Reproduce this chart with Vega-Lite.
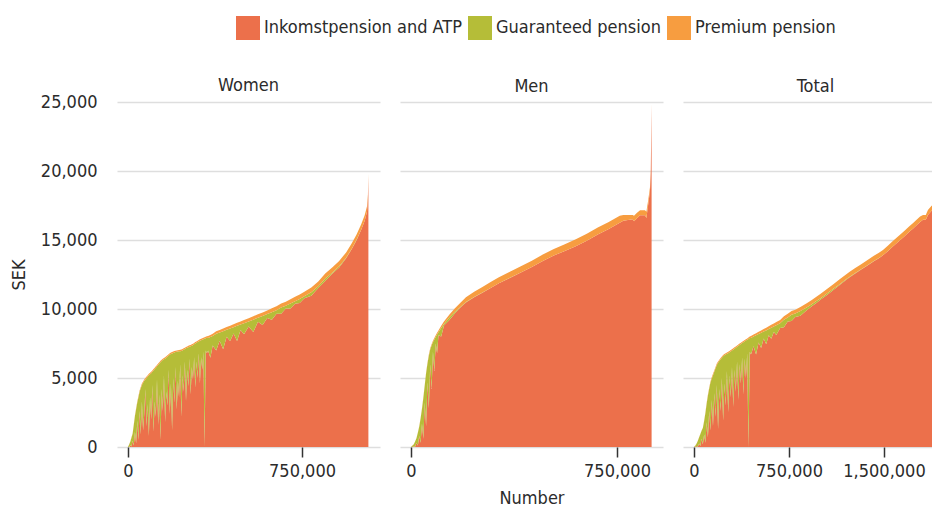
{
  "$schema": "https://vega.github.io/schema/vega-lite/v6.json",
  "padding": {"left": 10, "top": 16, "right": 0, "bottom": 0},
  "config": {
    "font": "DejaVu Sans Condensed, sans-serif",
    "view": {"stroke": null},
    "title": {"fontSize": 18, "fontWeight": "normal", "color": "#2b2b2b", "anchor": "middle", "offset": 6, "frame": "group"},
    "axis": {"labelFontSize": 18, "titleFontSize": 18, "titleFontWeight": "normal", "labelColor": "#2b2b2b", "titleColor": "#2b2b2b", "gridColor": "#dedede", "gridWidth": 1.5, "domain": false},
    "legend": {"labelFontSize": 18, "labelColor": "#2b2b2b", "labelLimit": 0},
    "concat": {"spacing": 20}
  },
  "datasets": {
    "ranks": [
      {"Component": "Inkomstpension and ATP", "rank": 1},
      {"Component": "Guaranteed pension", "rank": 2},
      {"Component": "Premium pension", "rank": 3}
    ],
    "women": [
      {"n": 0, "Inkomstpension and ATP": 0, "Guaranteed pension": 0, "Premium pension": 0},
      {"n": 5000, "Inkomstpension and ATP": 0, "Guaranteed pension": 190, "Premium pension": 10},
      {"n": 10000, "Inkomstpension and ATP": 120, "Guaranteed pension": 260, "Premium pension": 20},
      {"n": 15000, "Inkomstpension and ATP": 30, "Guaranteed pension": 640, "Premium pension": 30},
      {"n": 20000, "Inkomstpension and ATP": 450, "Guaranteed pension": 510, "Premium pension": 40},
      {"n": 25000, "Inkomstpension and ATP": 100, "Guaranteed pension": 1500, "Premium pension": 50},
      {"n": 30000, "Inkomstpension and ATP": 1100, "Guaranteed pension": 1140, "Premium pension": 60},
      {"n": 35000, "Inkomstpension and ATP": 250, "Guaranteed pension": 2480, "Premium pension": 70},
      {"n": 40000, "Inkomstpension and ATP": 1900, "Guaranteed pension": 1320, "Premium pension": 80},
      {"n": 45000, "Inkomstpension and ATP": 500, "Guaranteed pension": 3110, "Premium pension": 90},
      {"n": 50000, "Inkomstpension and ATP": 2600, "Guaranteed pension": 1400, "Premium pension": 100},
      {"n": 55000, "Inkomstpension and ATP": 900, "Guaranteed pension": 3350, "Premium pension": 100},
      {"n": 60000, "Inkomstpension and ATP": 3300, "Guaranteed pension": 1200, "Premium pension": 100},
      {"n": 65000, "Inkomstpension and ATP": 1200, "Guaranteed pension": 3450, "Premium pension": 100},
      {"n": 70000, "Inkomstpension and ATP": 2400, "Guaranteed pension": 2400, "Premium pension": 100},
      {"n": 75000, "Inkomstpension and ATP": 4200, "Guaranteed pension": 700, "Premium pension": 100},
      {"n": 80000, "Inkomstpension and ATP": 1500, "Guaranteed pension": 3500, "Premium pension": 100},
      {"n": 85000, "Inkomstpension and ATP": 3100, "Guaranteed pension": 2000, "Premium pension": 100},
      {"n": 90000, "Inkomstpension and ATP": 800, "Guaranteed pension": 4400, "Premium pension": 100},
      {"n": 95000, "Inkomstpension and ATP": 3600, "Guaranteed pension": 1680, "Premium pension": 100},
      {"n": 100000, "Inkomstpension and ATP": 2000, "Guaranteed pension": 3350, "Premium pension": 100},
      {"n": 105000, "Inkomstpension and ATP": 4500, "Guaranteed pension": 950, "Premium pension": 100},
      {"n": 110000, "Inkomstpension and ATP": 1100, "Guaranteed pension": 4450, "Premium pension": 100},
      {"n": 115000, "Inkomstpension and ATP": 3300, "Guaranteed pension": 2350, "Premium pension": 100},
      {"n": 120000, "Inkomstpension and ATP": 2200, "Guaranteed pension": 3550, "Premium pension": 100},
      {"n": 125000, "Inkomstpension and ATP": 4900, "Guaranteed pension": 950, "Premium pension": 100},
      {"n": 130000, "Inkomstpension and ATP": 1600, "Guaranteed pension": 4350, "Premium pension": 100},
      {"n": 135000, "Inkomstpension and ATP": 3800, "Guaranteed pension": 2250, "Premium pension": 100},
      {"n": 140000, "Inkomstpension and ATP": 500, "Guaranteed pension": 5650, "Premium pension": 100},
      {"n": 145000, "Inkomstpension and ATP": 4200, "Guaranteed pension": 2030, "Premium pension": 100},
      {"n": 150000, "Inkomstpension and ATP": 2600, "Guaranteed pension": 3700, "Premium pension": 100},
      {"n": 155000, "Inkomstpension and ATP": 5200, "Guaranteed pension": 1150, "Premium pension": 100},
      {"n": 160000, "Inkomstpension and ATP": 1800, "Guaranteed pension": 4600, "Premium pension": 100},
      {"n": 165000, "Inkomstpension and ATP": 4000, "Guaranteed pension": 2480, "Premium pension": 100},
      {"n": 170000, "Inkomstpension and ATP": 3000, "Guaranteed pension": 3550, "Premium pension": 100},
      {"n": 175000, "Inkomstpension and ATP": 5600, "Guaranteed pension": 1020, "Premium pension": 100},
      {"n": 180000, "Inkomstpension and ATP": 2400, "Guaranteed pension": 4300, "Premium pension": 100},
      {"n": 185000, "Inkomstpension and ATP": 4600, "Guaranteed pension": 2140, "Premium pension": 100},
      {"n": 190000, "Inkomstpension and ATP": 1200, "Guaranteed pension": 5580, "Premium pension": 100},
      {"n": 195000, "Inkomstpension and ATP": 5000, "Guaranteed pension": 1820, "Premium pension": 100},
      {"n": 200000, "Inkomstpension and ATP": 3200, "Guaranteed pension": 3650, "Premium pension": 100},
      {"n": 205000, "Inkomstpension and ATP": 5800, "Guaranteed pension": 1080, "Premium pension": 100},
      {"n": 210000, "Inkomstpension and ATP": 2700, "Guaranteed pension": 4200, "Premium pension": 100},
      {"n": 215000, "Inkomstpension and ATP": 4800, "Guaranteed pension": 2115, "Premium pension": 100},
      {"n": 220000, "Inkomstpension and ATP": 3600, "Guaranteed pension": 3330, "Premium pension": 100},
      {"n": 225000, "Inkomstpension and ATP": 6000, "Guaranteed pension": 945, "Premium pension": 100},
      {"n": 230000, "Inkomstpension and ATP": 2200, "Guaranteed pension": 4760, "Premium pension": 100},
      {"n": 235000, "Inkomstpension and ATP": 5200, "Guaranteed pension": 1800, "Premium pension": 100},
      {"n": 240000, "Inkomstpension and ATP": 4000, "Guaranteed pension": 3050, "Premium pension": 100},
      {"n": 245000, "Inkomstpension and ATP": 6200, "Guaranteed pension": 900, "Premium pension": 100},
      {"n": 250000, "Inkomstpension and ATP": 3300, "Guaranteed pension": 3850, "Premium pension": 100},
      {"n": 255000, "Inkomstpension and ATP": 5600, "Guaranteed pension": 1590, "Premium pension": 100},
      {"n": 260000, "Inkomstpension and ATP": 4400, "Guaranteed pension": 2830, "Premium pension": 100},
      {"n": 265000, "Inkomstpension and ATP": 6400, "Guaranteed pension": 865, "Premium pension": 100},
      {"n": 270000, "Inkomstpension and ATP": 3800, "Guaranteed pension": 3500, "Premium pension": 100},
      {"n": 275000, "Inkomstpension and ATP": 5800, "Guaranteed pension": 1540, "Premium pension": 100},
      {"n": 280000, "Inkomstpension and ATP": 4900, "Guaranteed pension": 2480, "Premium pension": 100},
      {"n": 285000, "Inkomstpension and ATP": 6500, "Guaranteed pension": 940, "Premium pension": 100},
      {"n": 290000, "Inkomstpension and ATP": 4300, "Guaranteed pension": 3200, "Premium pension": 100},
      {"n": 295000, "Inkomstpension and ATP": 6200, "Guaranteed pension": 1350, "Premium pension": 100},
      {"n": 300000, "Inkomstpension and ATP": 5000, "Guaranteed pension": 2600, "Premium pension": 100},
      {"n": 305000, "Inkomstpension and ATP": 6800, "Guaranteed pension": 850, "Premium pension": 100},
      {"n": 310000, "Inkomstpension and ATP": 4600, "Guaranteed pension": 3100, "Premium pension": 100},
      {"n": 315000, "Inkomstpension and ATP": 6500, "Guaranteed pension": 1240, "Premium pension": 100},
      {"n": 320000, "Inkomstpension and ATP": 5600, "Guaranteed pension": 2180, "Premium pension": 100},
      {"n": 325000, "Inkomstpension and ATP": 6900, "Guaranteed pension": 915, "Premium pension": 100},
      {"n": 330000, "Inkomstpension and ATP": 0, "Guaranteed pension": 7850, "Premium pension": 100},
      {"n": 335000, "Inkomstpension and ATP": 7000, "Guaranteed pension": 885, "Premium pension": 100},
      {"n": 340000, "Inkomstpension and ATP": 6800, "Guaranteed pension": 1120, "Premium pension": 100},
      {"n": 345000, "Inkomstpension and ATP": 7000, "Guaranteed pension": 900, "Premium pension": 150},
      {"n": 355000, "Inkomstpension and ATP": 6470, "Guaranteed pension": 1500, "Premium pension": 150},
      {"n": 365000, "Inkomstpension and ATP": 7350, "Guaranteed pension": 700, "Premium pension": 150},
      {"n": 380000, "Inkomstpension and ATP": 7000, "Guaranteed pension": 1200, "Premium pension": 180},
      {"n": 395000, "Inkomstpension and ATP": 7700, "Guaranteed pension": 600, "Premium pension": 180},
      {"n": 410000, "Inkomstpension and ATP": 7080, "Guaranteed pension": 1300, "Premium pension": 200},
      {"n": 425000, "Inkomstpension and ATP": 7990, "Guaranteed pension": 500, "Premium pension": 200},
      {"n": 440000, "Inkomstpension and ATP": 7690, "Guaranteed pension": 900, "Premium pension": 200},
      {"n": 455000, "Inkomstpension and ATP": 8230, "Guaranteed pension": 450, "Premium pension": 220},
      {"n": 470000, "Inkomstpension and ATP": 7680, "Guaranteed pension": 1100, "Premium pension": 220},
      {"n": 485000, "Inkomstpension and ATP": 8480, "Guaranteed pension": 400, "Premium pension": 220},
      {"n": 500000, "Inkomstpension and ATP": 8170, "Guaranteed pension": 800, "Premium pension": 230},
      {"n": 520000, "Inkomstpension and ATP": 8740, "Guaranteed pension": 350, "Premium pension": 240},
      {"n": 540000, "Inkomstpension and ATP": 8330, "Guaranteed pension": 900, "Premium pension": 250},
      {"n": 560000, "Inkomstpension and ATP": 9070, "Guaranteed pension": 300, "Premium pension": 250},
      {"n": 580000, "Inkomstpension and ATP": 8840, "Guaranteed pension": 650, "Premium pension": 260},
      {"n": 600000, "Inkomstpension and ATP": 9350, "Guaranteed pension": 280, "Premium pension": 270},
      {"n": 620000, "Inkomstpension and ATP": 9220, "Guaranteed pension": 550, "Premium pension": 280},
      {"n": 640000, "Inkomstpension and ATP": 9660, "Guaranteed pension": 250, "Premium pension": 290},
      {"n": 660000, "Inkomstpension and ATP": 9650, "Guaranteed pension": 450, "Premium pension": 300},
      {"n": 680000, "Inkomstpension and ATP": 10030, "Guaranteed pension": 200, "Premium pension": 300},
      {"n": 700000, "Inkomstpension and ATP": 10040, "Guaranteed pension": 350, "Premium pension": 310},
      {"n": 720000, "Inkomstpension and ATP": 10380, "Guaranteed pension": 180, "Premium pension": 320},
      {"n": 740000, "Inkomstpension and ATP": 10430, "Guaranteed pension": 300, "Premium pension": 320},
      {"n": 760000, "Inkomstpension and ATP": 10770, "Guaranteed pension": 150, "Premium pension": 330},
      {"n": 790000, "Inkomstpension and ATP": 10960, "Guaranteed pension": 250, "Premium pension": 340},
      {"n": 820000, "Inkomstpension and ATP": 11530, "Guaranteed pension": 120, "Premium pension": 350},
      {"n": 850000, "Inkomstpension and ATP": 12030, "Guaranteed pension": 180, "Premium pension": 360},
      {"n": 880000, "Inkomstpension and ATP": 12550, "Guaranteed pension": 80, "Premium pension": 370},
      {"n": 910000, "Inkomstpension and ATP": 13000, "Guaranteed pension": 100, "Premium pension": 380},
      {"n": 940000, "Inkomstpension and ATP": 13670, "Guaranteed pension": 50, "Premium pension": 380},
      {"n": 965000, "Inkomstpension and ATP": 14360, "Guaranteed pension": 30, "Premium pension": 390},
      {"n": 985000, "Inkomstpension and ATP": 14990, "Guaranteed pension": 20, "Premium pension": 390},
      {"n": 1005000, "Inkomstpension and ATP": 15740, "Guaranteed pension": 10, "Premium pension": 400},
      {"n": 1020000, "Inkomstpension and ATP": 16400, "Guaranteed pension": 0, "Premium pension": 400},
      {"n": 1030000, "Inkomstpension and ATP": 17050, "Guaranteed pension": 0, "Premium pension": 400},
      {"n": 1034000, "Inkomstpension and ATP": 18000, "Guaranteed pension": 0, "Premium pension": 300},
      {"n": 1036000, "Inkomstpension and ATP": 19600, "Guaranteed pension": 0, "Premium pension": 200}
    ],
    "men": [
      {"n": 0, "Inkomstpension and ATP": 0, "Guaranteed pension": 0, "Premium pension": 0},
      {"n": 5000, "Inkomstpension and ATP": 0, "Guaranteed pension": 95, "Premium pension": 5},
      {"n": 10000, "Inkomstpension and ATP": 60, "Guaranteed pension": 130, "Premium pension": 10},
      {"n": 15000, "Inkomstpension and ATP": 20, "Guaranteed pension": 370, "Premium pension": 10},
      {"n": 20000, "Inkomstpension and ATP": 300, "Guaranteed pension": 330, "Premium pension": 20},
      {"n": 25000, "Inkomstpension and ATP": 100, "Guaranteed pension": 930, "Premium pension": 20},
      {"n": 30000, "Inkomstpension and ATP": 800, "Guaranteed pension": 670, "Premium pension": 30},
      {"n": 35000, "Inkomstpension and ATP": 300, "Guaranteed pension": 1770, "Premium pension": 30},
      {"n": 40000, "Inkomstpension and ATP": 1700, "Guaranteed pension": 1060, "Premium pension": 40},
      {"n": 45000, "Inkomstpension and ATP": 600, "Guaranteed pension": 2950, "Premium pension": 50},
      {"n": 50000, "Inkomstpension and ATP": 3200, "Guaranteed pension": 1250, "Premium pension": 50},
      {"n": 55000, "Inkomstpension and ATP": 1500, "Guaranteed pension": 3840, "Premium pension": 60},
      {"n": 60000, "Inkomstpension and ATP": 4700, "Guaranteed pension": 1330, "Premium pension": 70},
      {"n": 65000, "Inkomstpension and ATP": 2800, "Guaranteed pension": 3820, "Premium pension": 80},
      {"n": 70000, "Inkomstpension and ATP": 6000, "Guaranteed pension": 1060, "Premium pension": 90},
      {"n": 75000, "Inkomstpension and ATP": 4200, "Guaranteed pension": 3150, "Premium pension": 100},
      {"n": 80000, "Inkomstpension and ATP": 6900, "Guaranteed pension": 700, "Premium pension": 100},
      {"n": 85000, "Inkomstpension and ATP": 5500, "Guaranteed pension": 2290, "Premium pension": 110},
      {"n": 90000, "Inkomstpension and ATP": 7500, "Guaranteed pension": 480, "Premium pension": 120},
      {"n": 95000, "Inkomstpension and ATP": 6800, "Guaranteed pension": 1360, "Premium pension": 120},
      {"n": 100000, "Inkomstpension and ATP": 8100, "Guaranteed pension": 220, "Premium pension": 130},
      {"n": 110000, "Inkomstpension and ATP": 8000, "Guaranteed pension": 630, "Premium pension": 150},
      {"n": 120000, "Inkomstpension and ATP": 8800, "Guaranteed pension": 120, "Premium pension": 180},
      {"n": 140000, "Inkomstpension and ATP": 9200, "Guaranteed pension": 200, "Premium pension": 200},
      {"n": 160000, "Inkomstpension and ATP": 9700, "Guaranteed pension": 100, "Premium pension": 250},
      {"n": 180000, "Inkomstpension and ATP": 10100, "Guaranteed pension": 50, "Premium pension": 300},
      {"n": 200000, "Inkomstpension and ATP": 10470, "Guaranteed pension": 30, "Premium pension": 350},
      {"n": 230000, "Inkomstpension and ATP": 10850, "Guaranteed pension": 20, "Premium pension": 380},
      {"n": 260000, "Inkomstpension and ATP": 11180, "Guaranteed pension": 20, "Premium pension": 400},
      {"n": 290000, "Inkomstpension and ATP": 11520, "Guaranteed pension": 10, "Premium pension": 420},
      {"n": 320000, "Inkomstpension and ATP": 11860, "Guaranteed pension": 10, "Premium pension": 430},
      {"n": 360000, "Inkomstpension and ATP": 12250, "Guaranteed pension": 10, "Premium pension": 440},
      {"n": 400000, "Inkomstpension and ATP": 12650, "Guaranteed pension": 0, "Premium pension": 450},
      {"n": 440000, "Inkomstpension and ATP": 13040, "Guaranteed pension": 0, "Premium pension": 460},
      {"n": 480000, "Inkomstpension and ATP": 13480, "Guaranteed pension": 0, "Premium pension": 470},
      {"n": 520000, "Inkomstpension and ATP": 13870, "Guaranteed pension": 0, "Premium pension": 480},
      {"n": 560000, "Inkomstpension and ATP": 14210, "Guaranteed pension": 0, "Premium pension": 490},
      {"n": 600000, "Inkomstpension and ATP": 14550, "Guaranteed pension": 0, "Premium pension": 500},
      {"n": 640000, "Inkomstpension and ATP": 14950, "Guaranteed pension": 0, "Premium pension": 500},
      {"n": 680000, "Inkomstpension and ATP": 15400, "Guaranteed pension": 0, "Premium pension": 500},
      {"n": 720000, "Inkomstpension and ATP": 15800, "Guaranteed pension": 0, "Premium pension": 500},
      {"n": 760000, "Inkomstpension and ATP": 16250, "Guaranteed pension": 0, "Premium pension": 500},
      {"n": 773000, "Inkomstpension and ATP": 16400, "Guaranteed pension": 0, "Premium pension": 410},
      {"n": 807000, "Inkomstpension and ATP": 16500, "Guaranteed pension": 0, "Premium pension": 310},
      {"n": 812000, "Inkomstpension and ATP": 16350, "Guaranteed pension": 0, "Premium pension": 400},
      {"n": 822000, "Inkomstpension and ATP": 16550, "Guaranteed pension": 0, "Premium pension": 400},
      {"n": 834000, "Inkomstpension and ATP": 16800, "Guaranteed pension": 0, "Premium pension": 350},
      {"n": 852000, "Inkomstpension and ATP": 16800, "Guaranteed pension": 0, "Premium pension": 350},
      {"n": 857000, "Inkomstpension and ATP": 16600, "Guaranteed pension": 0, "Premium pension": 450},
      {"n": 864000, "Inkomstpension and ATP": 17630, "Guaranteed pension": 0, "Premium pension": 300},
      {"n": 870000, "Inkomstpension and ATP": 18550, "Guaranteed pension": 0, "Premium pension": 250},
      {"n": 873000, "Inkomstpension and ATP": 19900, "Guaranteed pension": 0, "Premium pension": 200},
      {"n": 876000, "Inkomstpension and ATP": 24800, "Guaranteed pension": 0, "Premium pension": 100}
    ],
    "total": [
      {"n": 0, "Inkomstpension and ATP": 0, "Guaranteed pension": 0, "Premium pension": 0},
      {"n": 10000, "Inkomstpension and ATP": 0, "Guaranteed pension": 95, "Premium pension": 5},
      {"n": 20000, "Inkomstpension and ATP": 80, "Guaranteed pension": 160, "Premium pension": 10},
      {"n": 30000, "Inkomstpension and ATP": 20, "Guaranteed pension": 420, "Premium pension": 10},
      {"n": 40000, "Inkomstpension and ATP": 250, "Guaranteed pension": 430, "Premium pension": 20},
      {"n": 50000, "Inkomstpension and ATP": 80, "Guaranteed pension": 850, "Premium pension": 20},
      {"n": 60000, "Inkomstpension and ATP": 600, "Guaranteed pension": 570, "Premium pension": 30},
      {"n": 70000, "Inkomstpension and ATP": 200, "Guaranteed pension": 1170, "Premium pension": 30},
      {"n": 80000, "Inkomstpension and ATP": 900, "Guaranteed pension": 960, "Premium pension": 40},
      {"n": 90000, "Inkomstpension and ATP": 300, "Guaranteed pension": 2150, "Premium pension": 50},
      {"n": 100000, "Inkomstpension and ATP": 1800, "Guaranteed pension": 1340, "Premium pension": 60},
      {"n": 110000, "Inkomstpension and ATP": 700, "Guaranteed pension": 3030, "Premium pension": 70},
      {"n": 120000, "Inkomstpension and ATP": 2600, "Guaranteed pension": 1620, "Premium pension": 80},
      {"n": 130000, "Inkomstpension and ATP": 1200, "Guaranteed pension": 3470, "Premium pension": 80},
      {"n": 140000, "Inkomstpension and ATP": 3400, "Guaranteed pension": 1550, "Premium pension": 100},
      {"n": 150000, "Inkomstpension and ATP": 1500, "Guaranteed pension": 3700, "Premium pension": 100},
      {"n": 160000, "Inkomstpension and ATP": 3900, "Guaranteed pension": 1550, "Premium pension": 100},
      {"n": 170000, "Inkomstpension and ATP": 2200, "Guaranteed pension": 3500, "Premium pension": 100},
      {"n": 180000, "Inkomstpension and ATP": 4500, "Guaranteed pension": 1450, "Premium pension": 100},
      {"n": 190000, "Inkomstpension and ATP": 1300, "Guaranteed pension": 4800, "Premium pension": 100},
      {"n": 200000, "Inkomstpension and ATP": 4200, "Guaranteed pension": 2030, "Premium pension": 100},
      {"n": 210000, "Inkomstpension and ATP": 2600, "Guaranteed pension": 3750, "Premium pension": 100},
      {"n": 220000, "Inkomstpension and ATP": 5000, "Guaranteed pension": 1460, "Premium pension": 100},
      {"n": 230000, "Inkomstpension and ATP": 1900, "Guaranteed pension": 4670, "Premium pension": 100},
      {"n": 240000, "Inkomstpension and ATP": 4600, "Guaranteed pension": 2040, "Premium pension": 100},
      {"n": 250000, "Inkomstpension and ATP": 3000, "Guaranteed pension": 3700, "Premium pension": 100},
      {"n": 260000, "Inkomstpension and ATP": 5500, "Guaranteed pension": 1250, "Premium pension": 100},
      {"n": 270000, "Inkomstpension and ATP": 2500, "Guaranteed pension": 4300, "Premium pension": 100},
      {"n": 280000, "Inkomstpension and ATP": 5200, "Guaranteed pension": 1660, "Premium pension": 100},
      {"n": 290000, "Inkomstpension and ATP": 3600, "Guaranteed pension": 3320, "Premium pension": 100},
      {"n": 300000, "Inkomstpension and ATP": 5800, "Guaranteed pension": 1190, "Premium pension": 100},
      {"n": 310000, "Inkomstpension and ATP": 2900, "Guaranteed pension": 4150, "Premium pension": 100},
      {"n": 320000, "Inkomstpension and ATP": 5600, "Guaranteed pension": 1520, "Premium pension": 100},
      {"n": 330000, "Inkomstpension and ATP": 4000, "Guaranteed pension": 3190, "Premium pension": 100},
      {"n": 340000, "Inkomstpension and ATP": 6200, "Guaranteed pension": 1060, "Premium pension": 100},
      {"n": 350000, "Inkomstpension and ATP": 3400, "Guaranteed pension": 3930, "Premium pension": 100},
      {"n": 360000, "Inkomstpension and ATP": 6000, "Guaranteed pension": 1400, "Premium pension": 100},
      {"n": 370000, "Inkomstpension and ATP": 4600, "Guaranteed pension": 2860, "Premium pension": 100},
      {"n": 380000, "Inkomstpension and ATP": 6500, "Guaranteed pension": 1030, "Premium pension": 100},
      {"n": 390000, "Inkomstpension and ATP": 3800, "Guaranteed pension": 3790, "Premium pension": 100},
      {"n": 400000, "Inkomstpension and ATP": 6400, "Guaranteed pension": 1250, "Premium pension": 100},
      {"n": 410000, "Inkomstpension and ATP": 5000, "Guaranteed pension": 2710, "Premium pension": 100},
      {"n": 420000, "Inkomstpension and ATP": 6800, "Guaranteed pension": 970, "Premium pension": 100},
      {"n": 430000, "Inkomstpension and ATP": 0, "Guaranteed pension": 7835, "Premium pension": 100},
      {"n": 440000, "Inkomstpension and ATP": 6900, "Guaranteed pension": 1000, "Premium pension": 100},
      {"n": 450000, "Inkomstpension and ATP": 6700, "Guaranteed pension": 1200, "Premium pension": 150},
      {"n": 470000, "Inkomstpension and ATP": 7300, "Guaranteed pension": 700, "Premium pension": 150},
      {"n": 490000, "Inkomstpension and ATP": 6700, "Guaranteed pension": 1400, "Premium pension": 150},
      {"n": 510000, "Inkomstpension and ATP": 7580, "Guaranteed pension": 600, "Premium pension": 170},
      {"n": 530000, "Inkomstpension and ATP": 7170, "Guaranteed pension": 1100, "Premium pension": 180},
      {"n": 550000, "Inkomstpension and ATP": 7870, "Guaranteed pension": 500, "Premium pension": 180},
      {"n": 570000, "Inkomstpension and ATP": 7450, "Guaranteed pension": 1000, "Premium pension": 200},
      {"n": 590000, "Inkomstpension and ATP": 8100, "Guaranteed pension": 450, "Premium pension": 200},
      {"n": 610000, "Inkomstpension and ATP": 7840, "Guaranteed pension": 800, "Premium pension": 210},
      {"n": 630000, "Inkomstpension and ATP": 8330, "Guaranteed pension": 400, "Premium pension": 220},
      {"n": 650000, "Inkomstpension and ATP": 8120, "Guaranteed pension": 700, "Premium pension": 230},
      {"n": 680000, "Inkomstpension and ATP": 8620, "Guaranteed pension": 350, "Premium pension": 240},
      {"n": 710000, "Inkomstpension and ATP": 8680, "Guaranteed pension": 550, "Premium pension": 250},
      {"n": 740000, "Inkomstpension and ATP": 9090, "Guaranteed pension": 300, "Premium pension": 260},
      {"n": 770000, "Inkomstpension and ATP": 9130, "Guaranteed pension": 450, "Premium pension": 270},
      {"n": 800000, "Inkomstpension and ATP": 9420, "Guaranteed pension": 250, "Premium pension": 280},
      {"n": 840000, "Inkomstpension and ATP": 9510, "Guaranteed pension": 350, "Premium pension": 290},
      {"n": 890000, "Inkomstpension and ATP": 9910, "Guaranteed pension": 200, "Premium pension": 300},
      {"n": 930000, "Inkomstpension and ATP": 10200, "Guaranteed pension": 150, "Premium pension": 300},
      {"n": 966000, "Inkomstpension and ATP": 10430, "Guaranteed pension": 150, "Premium pension": 310},
      {"n": 1000000, "Inkomstpension and ATP": 10680, "Guaranteed pension": 100, "Premium pension": 320},
      {"n": 1050000, "Inkomstpension and ATP": 11020, "Guaranteed pension": 100, "Premium pension": 330},
      {"n": 1100000, "Inkomstpension and ATP": 11380, "Guaranteed pension": 80, "Premium pension": 340},
      {"n": 1150000, "Inkomstpension and ATP": 11740, "Guaranteed pension": 60, "Premium pension": 350},
      {"n": 1200000, "Inkomstpension and ATP": 12100, "Guaranteed pension": 50, "Premium pension": 350},
      {"n": 1229000, "Inkomstpension and ATP": 12300, "Guaranteed pension": 40, "Premium pension": 360},
      {"n": 1270000, "Inkomstpension and ATP": 12560, "Guaranteed pension": 30, "Premium pension": 360},
      {"n": 1320000, "Inkomstpension and ATP": 12860, "Guaranteed pension": 20, "Premium pension": 370},
      {"n": 1370000, "Inkomstpension and ATP": 13150, "Guaranteed pension": 20, "Premium pension": 380},
      {"n": 1420000, "Inkomstpension and ATP": 13460, "Guaranteed pension": 10, "Premium pension": 380},
      {"n": 1460000, "Inkomstpension and ATP": 13680, "Guaranteed pension": 10, "Premium pension": 390},
      {"n": 1492000, "Inkomstpension and ATP": 13890, "Guaranteed pension": 0, "Premium pension": 390},
      {"n": 1530000, "Inkomstpension and ATP": 14180, "Guaranteed pension": 0, "Premium pension": 400},
      {"n": 1570000, "Inkomstpension and ATP": 14520, "Guaranteed pension": 0, "Premium pension": 400},
      {"n": 1624000, "Inkomstpension and ATP": 14960, "Guaranteed pension": 0, "Premium pension": 400},
      {"n": 1660000, "Inkomstpension and ATP": 15260, "Guaranteed pension": 0, "Premium pension": 400},
      {"n": 1700000, "Inkomstpension and ATP": 15590, "Guaranteed pension": 0, "Premium pension": 400},
      {"n": 1730000, "Inkomstpension and ATP": 15840, "Guaranteed pension": 0, "Premium pension": 400},
      {"n": 1755000, "Inkomstpension and ATP": 16050, "Guaranteed pension": 0, "Premium pension": 400},
      {"n": 1785000, "Inkomstpension and ATP": 16300, "Guaranteed pension": 0, "Premium pension": 400},
      {"n": 1808000, "Inkomstpension and ATP": 16460, "Guaranteed pension": 0, "Premium pension": 350},
      {"n": 1830000, "Inkomstpension and ATP": 16460, "Guaranteed pension": 0, "Premium pension": 350},
      {"n": 1847000, "Inkomstpension and ATP": 16820, "Guaranteed pension": 0, "Premium pension": 350},
      {"n": 1874000, "Inkomstpension and ATP": 17110, "Guaranteed pension": 0, "Premium pension": 350},
      {"n": 1900000, "Inkomstpension and ATP": 17350, "Guaranteed pension": 0, "Premium pension": 350},
      {"n": 1913000, "Inkomstpension and ATP": 17550, "Guaranteed pension": 0, "Premium pension": 350}
    ]
  },
  "hconcat": [
    {
      "width": 263, "height": 345,
      "title": {"text": "Women", "offset": -2},
      "data": {"name": "women"},
      "transform": [
        {"fold": ["Inkomstpension and ATP", "Guaranteed pension", "Premium pension"], "as": ["Component", "SEK"]},
        {"lookup": "Component", "from": {"data": {"name": "ranks"}, "key": "Component", "fields": ["rank"]}}
      ],
      "mark": {"type": "area", "clip": true},
      "encoding": {
        "x": {"field": "n", "type": "quantitative", "scale": {"domain": [-47400, 1086000], "nice": false, "zero": false},
              "axis": {"values": [0, 750000], "format": ",d", "title": null, "grid": false, "tickColor": "#333333", "tickSize": 10, "tickWidth": 1.5, "labelPadding": 5}},
        "y": {"field": "SEK", "type": "quantitative", "stack": "zero", "scale": {"domain": [0, 25000], "nice": false},
              "axis": {"values": [0, 5000, 10000, 15000, 20000, 25000], "format": ",d", "title": "SEK", "ticks": false, "labelPadding": 20, "titlePadding": 12}},
        "order": {"field": "rank", "type": "quantitative"},
        "color": {"field": "Component", "type": "nominal",
                  "scale": {"domain": ["Inkomstpension and ATP", "Guaranteed pension", "Premium pension"], "range": ["#EC704B", "#B5BD38", "#F79D40"]},
                  "legend": {"title": null, "orient": "none", "direction": "horizontal", "legendX": 119, "legendY": -86, "symbolType": "square", "symbolSize": 576, "symbolStrokeWidth": 0, "symbolOpacity": 1, "labelOffset": 4, "columnPadding": 6}}
      }
    },
    {
      "width": 263, "height": 345,
      "title": {"text": "Men"},
      "data": {"name": "men"},
      "transform": [
        {"fold": ["Inkomstpension and ATP", "Guaranteed pension", "Premium pension"], "as": ["Component", "SEK"]},
        {"lookup": "Component", "from": {"data": {"name": "ranks"}, "key": "Component", "fields": ["rank"]}}
      ],
      "mark": {"type": "area", "clip": true},
      "encoding": {
        "x": {"field": "n", "type": "quantitative", "scale": {"domain": [-40000, 917500], "nice": false, "zero": false},
              "axis": {"values": [0, 750000], "format": ",d", "title": "Number", "grid": false, "tickColor": "#333333", "tickSize": 10, "tickWidth": 1.5, "labelPadding": 5, "titlePadding": 9}},
        "y": {"field": "SEK", "type": "quantitative", "stack": "zero", "scale": {"domain": [0, 25000], "nice": false},
              "axis": {"values": [0, 5000, 10000, 15000, 20000, 25000], "labels": false, "ticks": false, "title": null}},
        "order": {"field": "rank", "type": "quantitative"},
        "color": {"field": "Component", "type": "nominal",
                  "scale": {"domain": ["Inkomstpension and ATP", "Guaranteed pension", "Premium pension"], "range": ["#EC704B", "#B5BD38", "#F79D40"]},
                  "legend": null}
      }
    },
    {
      "width": 249, "height": 345,
      "title": {"text": "Total", "dx": 8},
      "data": {"name": "total"},
      "transform": [
        {"fold": ["Inkomstpension and ATP", "Guaranteed pension", "Premium pension"], "as": ["Component", "SEK"]},
        {"lookup": "Component", "from": {"data": {"name": "ranks"}, "key": "Component", "fields": ["rank"]}}
      ],
      "mark": {"type": "area", "clip": true},
      "encoding": {
        "x": {"field": "n", "type": "quantitative", "scale": {"domain": [-86800, 1879000], "nice": false, "zero": false},
              "axis": {"values": [0, 750000, 1500000], "format": ",d", "title": null, "grid": false, "tickColor": "#333333", "tickSize": 10, "tickWidth": 1.5, "labelPadding": 5}},
        "y": {"field": "SEK", "type": "quantitative", "stack": "zero", "scale": {"domain": [0, 25000], "nice": false},
              "axis": {"values": [0, 5000, 10000, 15000, 20000, 25000], "labels": false, "ticks": false, "title": null}},
        "order": {"field": "rank", "type": "quantitative"},
        "color": {"field": "Component", "type": "nominal",
                  "scale": {"domain": ["Inkomstpension and ATP", "Guaranteed pension", "Premium pension"], "range": ["#EC704B", "#B5BD38", "#F79D40"]},
                  "legend": null}
      }
    }
  ]
}
